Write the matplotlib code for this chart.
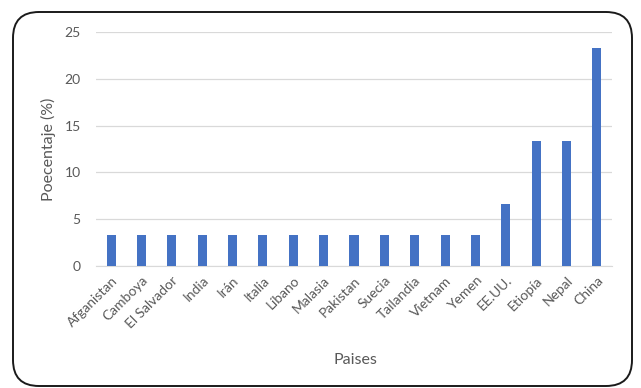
import matplotlib.pyplot as plt
from matplotlib.patches import FancyBboxPatch
from matplotlib.transforms import IdentityTransform

paises = ['Afganistan', 'Camboya', 'El Salvador', 'India', 'Irán', 'Italia',
          'Líbano', 'Malasia', 'Pakistan', 'Suecia', 'Tailandia', 'Vietnam',
          'Yemen', 'EE.UU.', 'Etiopía', 'Nepal', 'China']
porcentaje = [3.33, 3.33, 3.33, 3.33, 3.33, 3.33, 3.33, 3.33, 3.33, 3.33,
              3.33, 3.33, 3.33, 6.67, 13.33, 13.33, 23.33]
yticks = [0, 5, 10, 15, 20, 25]

plt.rcParams['font.family'] = ['Lato', 'DejaVu Sans']
grey = '#595959'

fig = plt.figure(figsize=(6.41, 3.88), dpi=100)
ax = fig.add_axes([96 / 641, 1 - 266 / 388, 516 / 641, 234 / 388])

x = range(len(paises))
ax.bar(x, porcentaje, width=0.3, color='#4472C4', zorder=3)

ax.set_xlim(-0.5, len(paises) - 0.5)
ax.set_ylim(0, 25)
ax.set_yticks(yticks)
ax.set_xticks(list(x))
ax.set_xticklabels(paises, rotation=45, ha='right', rotation_mode='anchor')
ax.tick_params(axis='both', length=0, colors=grey, labelsize=10)
ax.tick_params(axis='y', pad=11)
ax.tick_params(axis='x', pad=6)
ax.grid(axis='y', color='#d9d9d9', linewidth=0.9, zorder=0)
for side in ['top', 'right', 'left']:
    ax.spines[side].set_visible(False)
ax.spines['bottom'].set_color('#d9d9d9')

ax.set_ylabel('Poecentaje (%)', color=grey, fontsize=11.5, labelpad=6)
fig.text(355 / 641, 1 - 360 / 388, 'Paises', color=grey, fontsize=11.5,
         ha='center', va='center')

# rounded outline around the whole chart, in pixel coordinates
frame = FancyBboxPatch((13 + 26, 2 + 26), 619 - 52, 374 - 52,
                       boxstyle='round,pad=26', transform=IdentityTransform(),
                       facecolor='none', edgecolor='#1a1a1a', linewidth=1.4,
                       zorder=10)
fig.patches.append(frame)

fig.savefig('out.png', dpi=100)
